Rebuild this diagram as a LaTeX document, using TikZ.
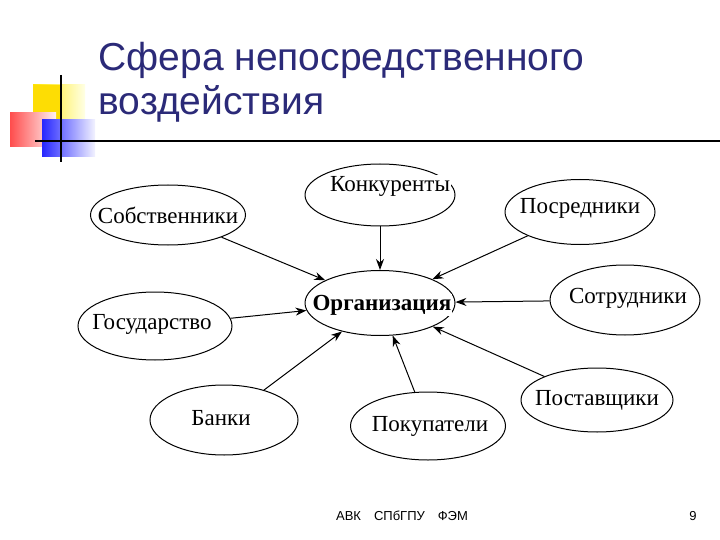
\documentclass[tikz,border=0pt]{standalone}
\usepackage{fontspec}
\setmainfont{Liberation Serif}
\newfontfamily\arialf{Liberation Sans}
\usetikzlibrary{shapes.geometric,arrows.meta}
\definecolor{navy}{HTML}{2B2A78}
\begin{document}
\begin{tikzpicture}[x=1pt,y=-1pt,
  ell/.style={draw,ellipse,line width=1pt,inner sep=0pt},
  lbl/.style={font=\fontsize{23}{26}\selectfont},
  arr/.style={-{Stealth[length=11pt,width=8pt]},line width=1pt}]
\useasboundingbox[fill=white] (0,0) rectangle (720,540);
% decoration
\shade[left color=yellow!80!orange, right color=yellow!10] (33,85) rectangle (85,125);
\fill[yellow!80!orange] (33,85) rectangle (60,125);
\shade[left color=red!70, right color=red!5] (10,113) rectangle (56,147);
\shade[left color=blue!85, right color=blue!5] (42,120) rectangle (95,157);
\draw[line width=2.5pt] (61,75) -- (61,162);
\draw[line width=2pt] (35,141) -- (720,141);
\node[anchor=west,text=navy,font=\arialf\fontsize{39}{42}\selectfont] (t1) at (95,60) {Сфера непосредственного};
\node[anchor=west,text=navy,font=\arialf\fontsize{39}{42}\selectfont] (t2) at (95,104) {воздействия};
% ellipses
\node[ell,minimum width=150,minimum height=62] (kon) at (380,195) {};
\node[ell,minimum width=155,minimum height=60] (sob) at (168,215) {};
\node[ell,minimum width=150,minimum height=65] (pos) at (580,212) {};
\node[ell,minimum width=150,minimum height=65] (org) at (380,303) {};
\node[ell,minimum width=154,minimum height=68] (gos) at (155,326) {};
\node[ell,minimum width=150,minimum height=70] (sot) at (625,300) {};
\node[ell,minimum width=148,minimum height=70] (ban) at (224,420) {};
\node[ell,minimum width=155,minimum height=68] (pok) at (428,426) {};
\node[ell,minimum width=152,minimum height=64] (pst) at (597,400) {};
% labels
\node[lbl,fill=white,inner sep=1pt] (lk) at (390,186) {Конкуренты};
\node[lbl,fill=white,inner sep=1pt] (ls) at (168,215) {Собственники};
\node[lbl] (lp) at (580,208) {Посредники};
\node[lbl,font=\bfseries\fontsize{23}{26}\selectfont,fill=white,inner sep=1pt] (lo) at (382,305) {Организация};
\node[lbl] (lg) at (152,324) {Государство};
\node[lbl] (lso) at (628,298) {Сотрудники};
\node[lbl] (lb) at (221,418) {Банки};
\node[lbl] (lpk) at (430,426) {Покупатели};
\node[lbl] (lps) at (597,400) {Поставщики};
% arrows
\draw[arr] (sob) -- (org);
\draw[arr] (kon) -- (org);
\draw[arr] (pos) -- (org);
\draw[arr] (sot) -- (org);
\draw[arr] (pst) -- (org);
\draw[arr] (pok) -- (org);
\draw[arr] (ban) -- (org);
\draw[arr] (gos) -- (org);
% footer
\node[font=\arialf\fontsize{13}{15}\selectfont] (f1) at (402,516) {АВК\quad СПбГПУ\quad ФЭМ};
\node[font=\arialf\fontsize{13}{15}\selectfont] (f2) at (693,516) {9};
\end{tikzpicture}
\end{document}
